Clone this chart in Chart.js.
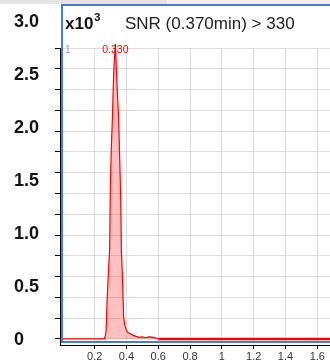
<!DOCTYPE html>
<html>
<head>
<meta charset="utf-8">
<script src="https://cdn.jsdelivr.net/npm/chart.js@4"></script>
<style>
	html, body { margin: 0; padding: 0; background: #fff; }
	#wrap { width: 330px; height: 362px; position: relative; }
</style>
</head>
<body>
<div id="wrap"><canvas id="snrChart"></canvas></div>
<script>
// retention time (min) and signal (x10^3)
const times = [-0.018, 0.1, 0.2, 0.261, 0.267, 0.272, 0.278, 0.288, 0.294, 0.299, 0.305, 0.311, 0.32, 0.33, 0.34, 0.351, 0.358, 0.364, 0.368, 0.376, 0.382, 0.39, 0.399, 0.41, 0.425, 0.443, 0.46, 0.48, 0.5, 0.52, 0.54, 0.56, 0.58, 0.6, 1.0, 1.4, 1.68];
const intensity = [0, 0, 0, 0, 0.03, 0.08, 0.37, 0.69, 0.85, 1.5, 1.85, 2.1, 2.58, 2.84, 2.47, 2.1, 1.7, 1.33, 0.85, 0.54, 0.21, 0.13, 0.086, 0.06, 0.05, 0.035, 0.025, 0.015, 0.02, 0.012, 0.02, 0.018, 0.01, 0, 0, 0, 0];

const gridTicks = [0, 0.2, 0.4, 0.6, 0.8, 1.0, 1.2, 1.4, 1.6, 1.8, 2.0, 2.2, 2.4, 2.6, 2.8];
const labelTicks = [0, 0.5, 1.0, 1.5, 2.0, 2.5, 3.0];
const timeTicks = [0.2, 0.4, 0.6, 0.8, 1.0, 1.2, 1.4, 1.6];

const peakTime = 0.330;
const traceNo = '1';
const titleText = 'SNR (0.370min) > 330';

const FONT = "'Liberation Sans', Arial, sans-serif";
const FRAME = '#4a7bd0';

// frame, header and peak marks
const frameDeco = {
	id: 'frameDeco',
	beforeDraw(chart) {
		const ctx = chart.ctx;
		ctx.save();
		ctx.fillStyle = '#e4e4e4';
		ctx.fillRect(0, 0, 167, 4);
		ctx.fillStyle = '#eef0f4';
		ctx.fillRect(167, 0, 163, 4);
		ctx.restore();
	},
	afterDraw(chart) {
		const ctx = chart.ctx;
		const area = chart.chartArea;
		const xs = chart.scales.x;
		ctx.save();
		ctx.strokeStyle = FRAME;
		ctx.lineWidth = 2;
		ctx.beginPath();
		ctx.moveTo(area.right, 5);
		ctx.lineTo(62, 5);
		ctx.lineTo(62, area.bottom - 3);
		ctx.lineTo(area.right, area.bottom - 3);
		ctx.stroke();

		ctx.fillStyle = '#111';
		ctx.textBaseline = 'alphabetic';
		ctx.font = 'bold 17px ' + FONT;
		ctx.fillText('x10', 65, 29);
		const w = ctx.measureText('x10').width;
		ctx.font = 'bold 11px ' + FONT;
		ctx.fillText('3', 65 + w + 1, 21);
		ctx.fillStyle = '#222';
		ctx.font = '17px ' + FONT;
		ctx.fillText(titleText, 125, 29);

		ctx.textBaseline = 'middle';
		ctx.fillStyle = '#999';
		ctx.font = '10px ' + FONT;
		ctx.fillText(traceNo, 65, 50);
		ctx.fillStyle = '#ff0000';
		ctx.font = '10.5px ' + FONT;
		ctx.textAlign = 'center';
		ctx.fillText(peakTime.toFixed(3), xs.getPixelForValue(peakTime), 50);
		ctx.restore();
	}
};

const ctx = document.getElementById('snrChart');
const theChart = new Chart(ctx, {
	type: 'line',
	data: {
		datasets: [{
			data: times.map((t, i) => ({ x: t, y: intensity[i] })),
			borderColor: '#ff0000',
			backgroundColor: 'rgba(255, 64, 64, 0.33)',
			borderWidth: 1.2,
			fill: 'origin',
			tension: 0,
			pointRadius: 0,
			clip: false,
			segment: {
				borderWidth: c => c.p0.parsed.x >= 0.6 ? 2.5 : 1.2
			}
		}]
	},
	options: {
		responsive: true,
		maintainAspectRatio: false,
		animation: false,
		events: [],
		layout: { padding: { left: 14, top: 48, right: 0, bottom: 0 } },
		plugins: {
			legend: { display: false },
			title: { display: false },
			tooltip: { enabled: false }
		},
		scales: {
			x: {
				type: 'linear',
				min: -0.018,
				max: 1.68,
				afterBuildTicks: s => { s.ticks = timeTicks.map(v => ({ value: v })); },
				afterFit: s => { s.height = 17; },
				grid: { color: '#dcdcdc', tickColor: '#000', tickLength: 4 },
				border: { color: '#000', width: 1 },
				ticks: {
					padding: 1,
					maxRotation: 0,
					color: '#333',
					font: { family: FONT, size: 11 },
					callback: v => String(Number(v.toFixed(1)))
				}
			},
			y: {
				type: 'linear',
				position: 'left',
				weight: 1,
				min: -0.058,
				max: 2.8,
				afterBuildTicks: s => { s.ticks = gridTicks.map(v => ({ value: v })); },
				afterFit: s => { s.width = 5; },
				grid: { color: '#dcdcdc', tickColor: '#000', tickLength: 5 },
				border: { color: '#000', width: 1 },
				ticks: { display: false }
			},
			y2: {
				type: 'linear',
				position: 'left',
				weight: 2,
				min: -0.047,
				max: 2.755,
				afterBuildTicks: s => { s.ticks = labelTicks.map(v => ({ value: v })); },
				afterFit: s => { s.width = 41; },
				grid: { display: false },
				border: { display: false },
				ticks: {
					crossAlign: 'far',
					padding: 0,
					color: '#111',
					font: { family: FONT, size: 18, weight: 'bold' },
					callback: v => v === 0 ? '0' : v.toFixed(1)
				}
			}
		}
	},
	plugins: [frameDeco]
});
</script>
</body>
</html>
